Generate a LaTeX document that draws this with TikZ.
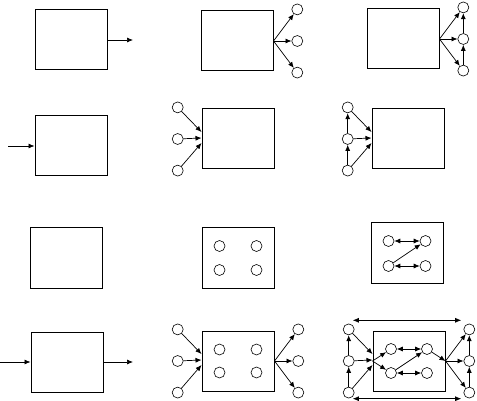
\documentclass[tikz,border=0pt]{standalone}
\usetikzlibrary{arrows.meta,positioning,calc}

\begin{document}
\begin{tikzpicture}[
      x=1pt,y=-1pt,
      >={Latex[length=6pt,width=5pt]},
      node distance=20pt and 18pt,
      box/.style={draw,line width=1pt,minimum width=72pt,minimum height=60pt,inner sep=0pt},
      dot/.style={draw,circle,line width=0.6pt,minimum size=11pt,inner sep=0pt},
      link/.style={->,line width=0.7pt}
    ]
    \useasboundingbox (0,0) rectangle (477,401);
    % boxes, row by row
    \node[box] (sys11) at (71,40) {};
    \node[box] (sys12) at (237,41) {};
    \node[box] (sys13) at (403,39) {};
    \node[box] (sys21) at (71,146) {};
    \node[box] (sys22) at (238,139) {};
    \node[box] (sys23) at (408,139) {};
    \node[box] (sys31) at (66,258) {};
    \node[box] (sys32) at (238,258) {};
    \node[box] (sys33) at (407,253) {};
    \node[box] (sys41) at (67,362) {};
    \node[box] (sys42) at (238,361) {};
    \node[box] (sys43) at (409,361) {};

    % row 1
    \coordinate (out11) at (133,40);
    \draw[link] (sys11) -- (out11);
    \node[dot,right=of sys12] (o12m) {};
    \node[dot,above=of o12m] (o12t) {};
    \node[dot,below=of o12m] (o12b) {};
    \draw[link] (sys12.east) -- (o12t);
    \draw[link] (sys12.east) -- (o12m);
    \draw[link] (sys12.east) -- (o12b);
    \node[dot,right=of sys13] (o13m) {};
    \node[dot,above=of o13m] (o13t) {};
    \node[dot,below=of o13m] (o13b) {};
    \draw[link] (sys13.east) -- (o13t);
    \draw[link] (sys13.east) -- (o13m);
    \draw[link] (sys13.east) -- (o13b);
    \draw[link] (o13b) -- (o13m);
    \draw[link] (o13m) -- (o13t);

    % row 2
    \coordinate (in21) at (8,146);
    \draw[link] (in21) -- (sys21);
    \node[dot,left=of sys22] (i22m) {};
    \node[dot,above=of i22m] (i22t) {};
    \node[dot,below=of i22m] (i22b) {};
    \draw[link] (i22t) -- ([yshift=7pt]sys22.west);
    \draw[link] (i22m) -- ([yshift=1pt]sys22.west);
    \draw[link] (i22b) -- ([yshift=-4pt]sys22.west);
    \node[dot,left=of sys23] (i23m) {};
    \node[dot,above=of i23m] (i23t) {};
    \node[dot,below=of i23m] (i23b) {};
    \draw[link] (i23t) -- ([yshift=7pt]sys23.west);
    \draw[link] (i23m) -- ([yshift=1pt]sys23.west);
    \draw[link] (i23b) -- ([yshift=-4pt]sys23.west);
    \draw[link] (i23b) -- (i23m);
    \draw[link] (i23m) -- (i23t);

    % row 3
    \node[dot] (n32a) at ($(sys32.center)+(-18.5,-12)$) {};
    \node[dot] (n32b) at ($(sys32.center)+(18.5,-12)$) {};
    \node[dot] (n32c) at ($(sys32.center)+(-18.5,12)$) {};
    \node[dot] (n32d) at ($(sys32.center)+(18.5,12)$) {};
    \node[dot] (n33a) at ($(sys33.center)+(-18.5,-12)$) {};
    \node[dot] (n33b) at ($(sys33.center)+(18.5,-12)$) {};
    \node[dot] (n33c) at ($(sys33.center)+(-18.5,13)$) {};
    \node[dot] (n33d) at ($(sys33.center)+(18.5,13)$) {};
    \draw[link,<->] (n33a) -- (n33b);
    \draw[link,<->] (n33c) -- (n33d);
    \draw[link] (n33c) -- (n33b);

    % row 4
    \coordinate (in41) at (0,362);
    \coordinate (out41) at (133,362);
    \draw[link] (in41) -- (sys41);
    \draw[link] (sys41) -- (out41);

    \node[dot,left=of sys42] (i42m) {};
    \node[dot,above=of i42m] (i42t) {};
    \node[dot,below=of i42m] (i42b) {};
    \node[dot,right=of sys42] (o42m) {};
    \node[dot,above=of o42m] (o42t) {};
    \node[dot,below=of o42m] (o42b) {};
    \draw[link] (i42t) -- ([yshift=7pt]sys42.west);
    \draw[link] (i42m) -- ([yshift=1pt]sys42.west);
    \draw[link] (i42b) -- ([yshift=-4pt]sys42.west);
    \draw[link] (sys42.east) -- (o42t);
    \draw[link] (sys42.east) -- (o42m);
    \draw[link] (sys42.east) -- (o42b);
    \node[dot] (n42a) at ($(sys42.center)+(-18.5,-11.5)$) {};
    \node[dot] (n42b) at ($(sys42.center)+(18.5,-11.5)$) {};
    \node[dot] (n42c) at ($(sys42.center)+(-18.5,11.5)$) {};
    \node[dot] (n42d) at ($(sys42.center)+(18.5,11.5)$) {};

    \node[dot,left=of sys43] (i43m) {};
    \node[dot,above=of i43m] (i43t) {};
    \node[dot,below=of i43m] (i43b) {};
    \node[dot,right=of sys43] (o43m) {};
    \node[dot,above=of o43m] (o43t) {};
    \node[dot,below=of o43m] (o43b) {};
    \draw[link] (i43t) -- ([yshift=7pt]sys43.west);
    \draw[link] (i43m) -- ([yshift=1pt]sys43.west);
    \draw[link] (i43b) -- ([yshift=-4pt]sys43.west);
    \draw[link] (i43b) -- (i43m);
    \draw[link] (i43m) -- (i43t);
    \draw[link] (sys43.east) -- (o43t);
    \draw[link] (sys43.east) -- (o43m);
    \draw[link] (sys43.east) -- (o43b);
    \draw[link] (o43b) -- (o43m);
    \draw[link] (o43m) -- (o43t);
    \draw[link,<->] ([yshift=5pt]i43t.north east) -- ([shift={(-4pt,5pt)}]o43t.north west);
    \draw[link,<->] ([yshift=-2pt]i43b.south east) -- ([shift={(-4pt,-2pt)}]o43b.south west);
    \node[dot] (n43a) at ($(sys43.center)+(-18,-12)$) {};
    \node[dot] (n43b) at ($(sys43.center)+(18,-12)$) {};
    \node[dot] (n43c) at ($(sys43.center)+(-18,12)$) {};
    \node[dot] (n43d) at ($(sys43.center)+(18,12)$) {};
    \draw[link] (sys43.west) -- (n43a);
    \draw[link] (sys43.west) -- (n43c);
    \draw[link,<->] (n43a) -- (n43b);
    \draw[link,<->] (n43c) -- (n43d);
    \draw[link] (n43c) -- (n43b);
    \draw[link] (n43b) -- (sys43.east);
  \end{tikzpicture}
\end{document}
